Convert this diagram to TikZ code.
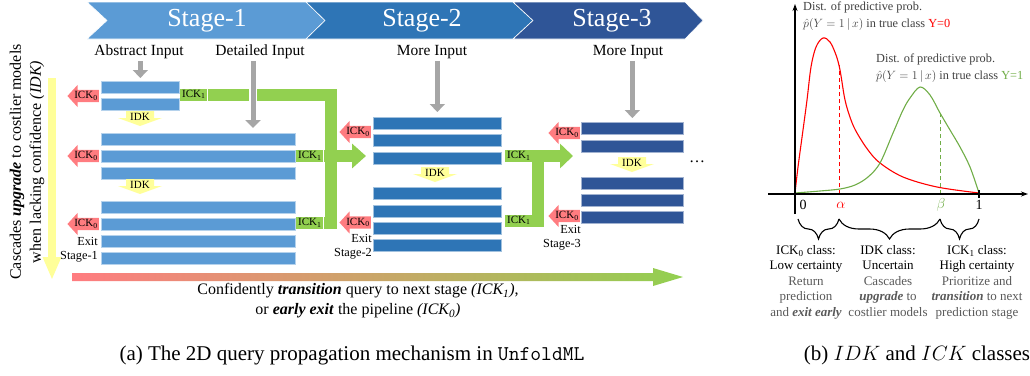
\documentclass[tikz,border=0pt]{standalone}
\usepackage{fontspec}
\setmainfont{Liberation Serif}
\usetikzlibrary{arrows.meta,shapes.arrows,decorations.pathreplacing}

\definecolor{stageA}{HTML}{5B9BD5}
\definecolor{stageB}{HTML}{2E75B6}
\definecolor{stageC}{HTML}{2F5597}
\definecolor{ickred}{HTML}{FF7C80}
\definecolor{ickgreen}{HTML}{92D050}
\definecolor{idkyellow}{HTML}{FFFF99}
\definecolor{inputgray}{HTML}{A6A6A6}
\definecolor{midorange}{HTML}{F2B07E}
\definecolor{plotgreen}{HTML}{70AD47}
\definecolor{txtgray}{HTML}{404040}
\definecolor{lightgray}{HTML}{595959}

\tikzset{
  stagelbl/.style={text=white,font=\fontsize{26}{30}\selectfont},
  inlbl/.style={inner sep=2pt,font=\fontsize{15.5}{18}\selectfont},
  inarrow/.style={inputgray,line width=5pt,-{Triangle[width=15pt,length=8pt]},
    preaction={draw=white,line width=8pt,arrows=-}},
  bar/.style={rectangle,inner sep=0pt,minimum height=12pt,anchor=north west,line width=0.7pt},
  barA/.style={bar,fill=stageA,draw=white!55!stageA},
  barB/.style={bar,fill=stageB,draw=white!55!stageB},
  barC/.style={bar,fill=stageC,draw=white!55!stageC},
  ickfont/.style={font=\fontsize{11}{12}\selectfont,text height=7pt,text depth=2pt,inner ysep=1.5pt},
  ick0/.style={ickfont,single arrow,shape border rotate=180,fill=ickred,inner xsep=1pt,
    single arrow head extend=5pt,single arrow tip angle=95,anchor=tail},
  ick1/.style={ickfont,fill=ickgreen,inner xsep=2pt,anchor=west},
  k1line/.style={draw=ickgreen,line width=12pt},
  idklbl/.style={inner sep=0pt,font=\fontsize{11}{12}\selectfont},
  idkdown/.pic={
    \fill[idkyellow] (-14,0) -- (14,0) -- (14,7) -- (22,7) -- (0,15) -- (-22,7) -- (-14,7) -- cycle;
    \node[idklbl] (-t) at (0,6) {IDK};
  },
  exittxt/.style={align=right,anchor=north east,inner sep=1pt,font=\fontsize{12.3}{14.5}\selectfont},
  sidetxt/.style={align=center,font=\fontsize{16}{20}\selectfont},
  plottxt/.style={align=left,anchor=north west,text=txtgray,inner sep=1pt,font=\fontsize{12.3}{17}\selectfont},
  clstxt/.style={align=center,anchor=north,inner sep=1pt,font=\fontsize{13}{15.5}\selectfont},
  axis/.style={line width=1.2pt,black},
  capfont/.style={font=\fontsize{21}{24}\selectfont}
}

\begin{document}
\begin{tikzpicture}[x=1pt,y=-1pt,line join=miter]
  \useasboundingbox (0,0) rectangle (1030,375);

  % stage banner
  \fill[stageA,draw=white,line width=0.6pt] (87,2) -- (306,2) -- (325,20.5) -- (306,39) -- (87,39) -- (107,20.5) -- cycle;
  \fill[stageB,draw=white,line width=0.6pt] (306,2) -- (513,2) -- (533,20.5) -- (513,39) -- (306,39) -- (325,20.5) -- cycle;
  \fill[stageC,draw=white,line width=0.6pt] (513,2) -- (685,2) -- (703,20.5) -- (685,39) -- (513,39) -- (533,20.5) -- cycle;
  \node[stagelbl] (st1) at (207,21) {Stage-1};
  \node[stagelbl] (st2) at (422,21) {Stage-2};
  \node[stagelbl] (st3) at (612,21) {Stage-3};

  % inputs
  \node[inlbl] (absin) at (139,52) {Abstract Input};
  \node[inlbl] (detin) at (260,52) {Detailed Input};
  \node[inlbl] (morein2) at (432,52) {More Input};
  \node[inlbl] (morein3) at (628,52) {More Input};

  % stage 1 models
  \node[barA,minimum width=78pt] (s1a1) at (101,81) {};
  \node[barA,minimum width=78pt] (s1a2) at (101,98) {};
  \node[barA,minimum width=194pt] (s1b1) at (101,133) {};
  \node[barA,minimum width=194pt] (s1b2) at (101,150) {};
  \node[barA,minimum width=194pt] (s1b3) at (101,167) {};
  \node[barA,minimum width=194pt] (s1c1) at (101,201) {};
  \node[barA,minimum width=194pt] (s1c2) at (101,218) {};
  \node[barA,minimum width=194pt] (s1c3) at (101,235) {};
  \node[barA,minimum width=194pt] (s1c4) at (101,252) {};

  % stage 2 models
  \node[barB,minimum width=128pt] (s2a1) at (373,117) {};
  \node[barB,minimum width=128pt] (s2a2) at (373,134) {};
  \node[barB,minimum width=128pt] (s2a3) at (373,152) {};
  \node[barB,minimum width=128pt] (s2b1) at (373,187) {};
  \node[barB,minimum width=128pt] (s2b2) at (373,205) {};
  \node[barB,minimum width=128pt] (s2b3) at (373,222) {};
  \node[barB,minimum width=128pt] (s2b4) at (373,239) {};

  % stage 3 models
  \node[barC,minimum width=102pt] (s3a1) at (581,122) {};
  \node[barC,minimum width=102pt] (s3a2) at (581,140) {};
  \node[barC,minimum width=102pt] (s3b1) at (581,177) {};
  \node[barC,minimum width=102pt] (s3b2) at (581,194) {};
  \node[barC,minimum width=102pt] (s3b3) at (581,211) {};
  \node[font=\fontsize{16}{18}\selectfont] (more) at (697,162) {\dots};

  % ICK_1: transition to the next stage
  \node[ick1] (k1a) at (180,94.5) {ICK\textsubscript{1}};
  \node[ick1] (k1b) at (296,156) {ICK\textsubscript{1}};
  \node[ick1] (k1c) at (296,223) {ICK\textsubscript{1}};
  \coordinate (j1) at (330.5,156);
  \draw[k1line] (k1a.east) -| (j1) |- (k1c.east);
  \draw[k1line,-{Triangle[width=24pt,length=14pt]},shorten >=7pt] (k1b.east) -- (k1b.east -| s2a3.west);
  \node[ick1] (k2a) at (505,156) {ICK\textsubscript{1}};
  \node[ick1] (k2b) at (505,220.5) {ICK\textsubscript{1}};
  \coordinate (j2) at (538,156);
  \draw[k1line] (k2b.east) -| (j2);
  \draw[k1line,-{Triangle[width=24pt,length=13pt]},shorten >=8pt] (k2a.east) -- (k2a.east -| s3a2.west);

  % input arrows
  \draw[inarrow,shorten >=3pt] (absin.south -| s1a1.north) -- (s1a1.north);
  \draw[inarrow,shorten >=5pt] ([xshift=-7pt]detin.south) -- ([xshift=-7pt]detin.south |- s1b1.north);
  \draw[inarrow,shorten >=5pt] (morein2.south -| s2a1.north) -- (s2a1.north);
  \draw[inarrow,shorten >=4pt] (morein3.south -| s3a1.north) -- (s3a1.north);

  % ICK_0: early exit
  \node[ick0] (x1a) at (99,96) {ICK\textsubscript{0}};
  \node[ick0] (x1b) at (99,156) {ICK\textsubscript{0}};
  \node[ick0] (x1c) at (99,224) {ICK\textsubscript{0}};
  \node[ick0] (x2a) at (371,132) {ICK\textsubscript{0}};
  \node[ick0] (x2b) at (371,222.5) {ICK\textsubscript{0}};
  \node[ick0] (x3a) at (580,133) {ICK\textsubscript{0}};
  \node[ick0] (x3b) at (580,216) {ICK\textsubscript{0}};
  \node[exittxt] (ex1) at (99,236) {Exit\\Stage-1};
  \node[exittxt] (ex2) at (373,233) {Exit\\Stage-2};
  \node[exittxt] (ex3) at (582,224) {Exit\\Stage-3};

  % IDK: upgrade within a stage
  \pic (idk1) at (140,111) {idkdown};
  \pic (idk2) at (140,179) {idkdown};
  \pic (idk3) at (435,167) {idkdown};
  \pic (idk4) at (632,157) {idkdown};

  % the two directions
  \draw[idkyellow,line width=8pt,-{Triangle[width=17pt,length=23pt]}] (52,78) -- (52,280);
  \node[sidetxt,rotate=90] (upg) at (27,162) {Cascades \textbf{\textit{upgrade}} to costlier models\\when lacking confidence \textit{(IDK)}};
  \shade[left color=ickred,middle color=midorange,right color=ickgreen]
    (72,273) -- (653,273) -- (653,268) -- (683,277) -- (653,286) -- (653,281) -- (72,281) -- cycle;
  \node[sidetxt] (flow) at (358,301) {Confidently \textbf{\textit{transition}} query to next stage \textit{(ICK\textsubscript{1})},\\or \textbf{\textit{early exit}} the pipeline \textit{(ICK\textsubscript{0})}};

  % predictive distributions
  \draw[red,line width=1.1pt] plot[smooth,tension=0.55] coordinates {(795,193) (798,167) (803,130) (807,100) (811,67) (816,47) (823,38) (830,42) (836,55) (840,70) (845,100) (851,120) (857,133) (868,150) (880,163) (903,177) (937,187) (979,193)};
  \draw[plotgreen,line width=1.1pt] plot[smooth,tension=0.55] coordinates {(795,193) (820,191) (840,189) (855,185) (868,177) (880,163) (893,133) (903,110) (910,98) (920,87) (930,95) (940,113) (950,130) (960,147) (970,167) (979,193)};
  \draw[red,line width=0.9pt,dash pattern=on 4pt off 3pt] (839,194) -- (839,65);
  \draw[plotgreen,line width=0.9pt,dash pattern=on 4pt off 3pt] (940,194) -- (940,113);
  \draw[axis,-{Stealth[length=7pt,width=5pt]}] (768,194) -- (1028,194);
  \draw[axis,-{Stealth[length=7pt,width=5pt]}] (795,214) -- (795,4);
  \draw[axis] (979,190) -- (979,198);
  \node[font=\fontsize{14}{16}\selectfont] (p0) at (803,205) {0};
  \node[font=\fontsize{14}{16}\selectfont,text=red] (pa) at (841,205) {$\alpha$};
  \node[font=\fontsize{14}{16}\selectfont,text=plotgreen] (pb) at (941,205) {$\beta$};
  \node[font=\fontsize{14}{16}\selectfont] (p1) at (979,205) {1};
  \node[plottxt] (dist0) at (802,1) {Dist. of predictive prob.\\$\hat{p}(Y=1\,|\,x)$ in true class \textcolor{red}{Y=0}};
  \node[plottxt] (dist1) at (875,53) {Dist. of predictive prob.\\$\hat{p}(Y=1\,|\,x)$ in true class \textcolor{plotgreen}{Y=1}};

  % classes
  \draw[line width=1.1pt,decorate,decoration={brace,amplitude=20pt,mirror}] (798,219) -- (839,219);
  \draw[line width=1.1pt,decorate,decoration={brace,amplitude=20pt,mirror}] (839,219) -- (940,219);
  \draw[line width=1.1pt,decorate,decoration={brace,amplitude=20pt,mirror}] (940,219) -- (979,219);
  \node[clstxt] (cls0) at (806,244) {ICK\textsubscript{0} class:\\Low certainty\\\textcolor{lightgray}{Return}\\\textcolor{lightgray}{prediction}\\\textcolor{lightgray}{and \textbf{\textit{exit early}}}};
  \node[clstxt] (clsidk) at (888,244) {IDK class:\\Uncertain\\\textcolor{lightgray}{Cascades}\\\textcolor{lightgray}{\textbf{\textit{upgrade}} to}\\\textcolor{lightgray}{costlier models}};
  \node[clstxt] (cls1) at (977,244) {ICK\textsubscript{1} class:\\High certainty\\\textcolor{lightgray}{Prioritize and}\\\textcolor{lightgray}{\textbf{\textit{transition}} to next}\\\textcolor{lightgray}{prediction stage}};

  % captions
  \node[capfont] (capa) at (352,355) {(a) The 2D query propagation mechanism in \texttt{UnfoldML}};
  \node[capfont] (capb) at (917,355) {(b) $IDK$ and $ICK$ classes};
\end{tikzpicture}
\end{document}
